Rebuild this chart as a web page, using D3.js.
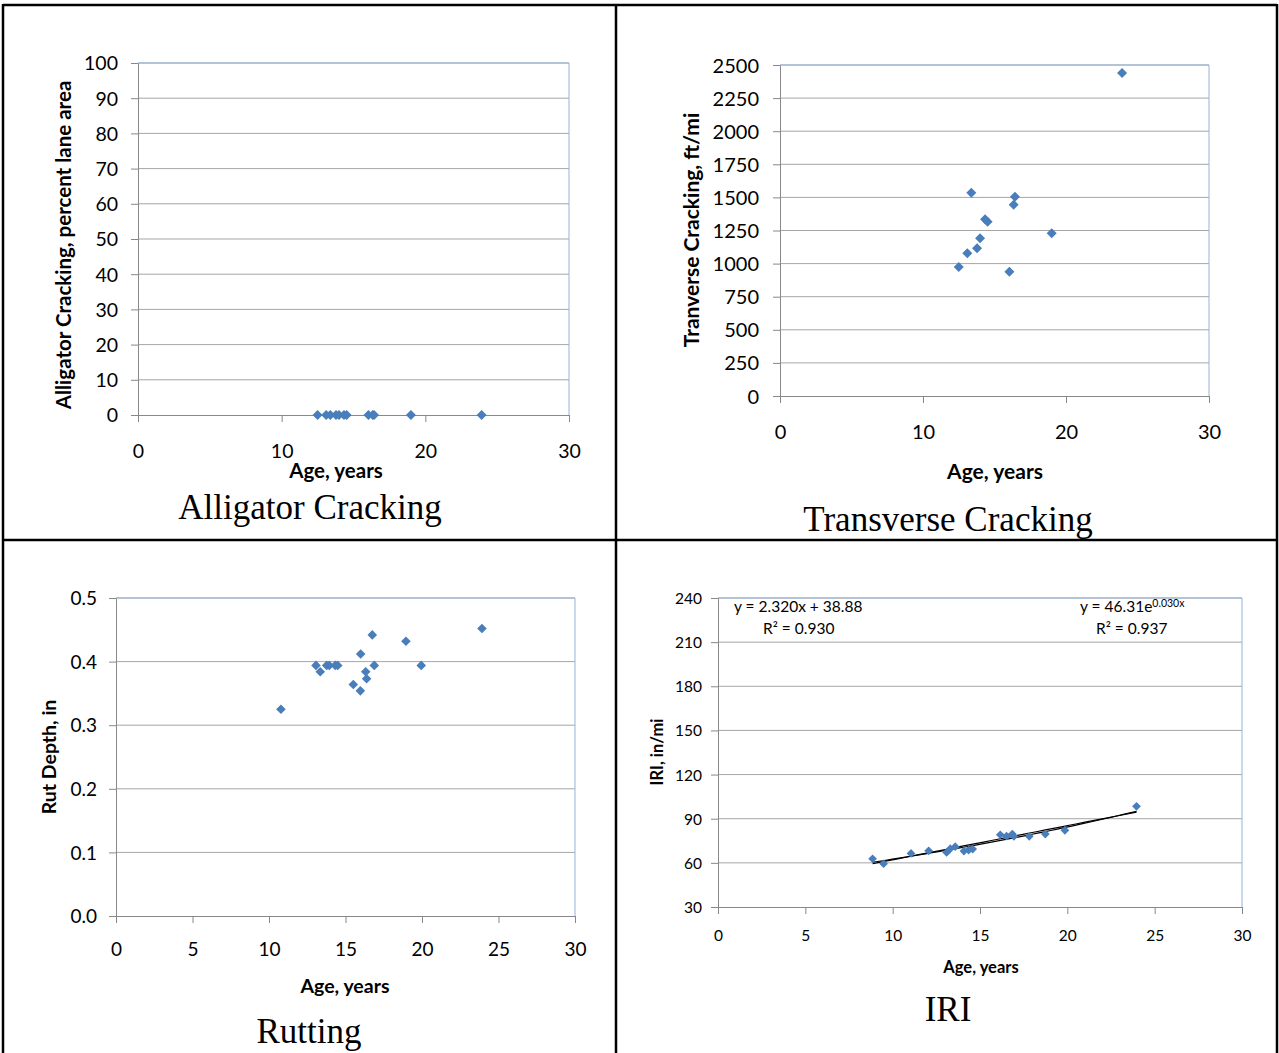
<!DOCTYPE html>
<html>
<head>
<meta charset="utf-8">
<script src="https://cdn.jsdelivr.net/npm/d3@7"></script>
<style>
  body { margin: 0; background: #fff; }
  svg { display: block; }
  text { fill: #000; }
</style>
</head>
<body>
<svg id="chart" width="1279" height="1053"></svg>
<script>
// Pavement age of each section (years)
const crackAge = [12.5, 13.1, 13.38, 13.78, 13.99, 14.34, 14.52, 16.04, 16.34, 16.43, 19.0, 23.92];
// Alligator cracking, percent lane area
const alligatorValues = [0, 0, 0, 0, 0, 0, 0, 0, 0, 0, 0, 0];
// Transverse cracking, ft/mi
const transverseValues = [974, 1078, 1535, 1115, 1191, 1335, 1317, 939, 1445, 1505, 1229, 2440];

// Rutting
const rutAge = [10.78, 13.07, 13.35, 13.77, 13.94, 14.33, 14.49, 15.51, 15.99, 15.97, 16.32, 16.38, 16.75, 16.88, 18.95, 19.95, 23.92];
const rutValues = [0.325, 0.394, 0.384, 0.394, 0.394, 0.394, 0.394, 0.364, 0.412, 0.354, 0.384, 0.373, 0.442, 0.394, 0.432, 0.394, 0.452];

// IRI, in/mi
const iriAge = [8.85, 9.48, 11.05, 12.06, 13.09, 13.3, 13.58, 14.08, 14.35, 14.58, 16.16, 16.52, 16.85, 16.94, 17.82, 18.74, 19.86, 23.96];
const iriValues = [62.8, 59.4, 66.4, 68.2, 67.1, 69.6, 71.0, 68.0, 68.7, 69.4, 79.1, 78.2, 79.6, 78.0, 78.0, 79.6, 82.1, 98.4];

// Fitted trend lines for IRI
const linearFit = { slope: 2.320, intercept: 38.88, r2: 0.930 };
const expFit = { a: 46.31, b: 0.030, r2: 0.937 };

// Tick values
const ticksAge10 = [0, 10, 20, 30];
const ticksAge5 = [0, 5, 10, 15, 20, 25, 30];
const ticksAlligator = [0, 10, 20, 30, 40, 50, 60, 70, 80, 90, 100];
const ticksTransverse = [0, 250, 500, 750, 1000, 1250, 1500, 1750, 2000, 2250, 2500];
const ticksRut = [0, 0.1, 0.2, 0.3, 0.4, 0.5];
const ticksIri = [30, 60, 90, 120, 150, 180, 210, 240];

const svg = d3.select("#chart");
const FONT = "Lato, 'Open Sans', sans-serif";
const SERIF = "'Liberation Serif', 'DejaVu Serif', serif";
const GRID = "#a6a6a6";
const AXIS = "#888888";
const FRAME = "#95b3d7";
const MARK = "#4a7ebb";

// Table frame around the four cells
const frame = svg.append("g").attr("stroke", "#000").attr("stroke-width", 2.5).attr("fill", "none");
frame.append("line").attr("x1", 3).attr("x2", 3).attr("y1", 4).attr("y2", 1053);
frame.append("line").attr("x1", 1277).attr("x2", 1277).attr("y1", 4).attr("y2", 1053);
frame.append("line").attr("x1", 3).attr("x2", 1277).attr("y1", 5).attr("y2", 5);
frame.append("line").attr("x1", 616).attr("x2", 616).attr("y1", 4).attr("y2", 1053);
frame.append("line").attr("x1", 3).attr("x2", 1277).attr("y1", 540).attr("y2", 540);

function panel(c) {
  const g = svg.append("g");
  const x = d3.scaleLinear().domain(c.xDomain).range([c.left, c.right]);
  const y = d3.scaleLinear().domain(c.yDomain).range([c.bottom, c.top]);

  // horizontal gridlines
  g.append("g").selectAll("line")
    .data(c.yTicks.slice(1))
    .join("line")
    .attr("x1", c.left).attr("x2", c.right)
    .attr("y1", d => y(d)).attr("y2", d => y(d))
    .attr("stroke", GRID).attr("stroke-width", 1);

  // plot frame, top and right
  g.append("path")
    .attr("d", `M${c.left},${c.top}H${c.right}V${c.bottom}`)
    .attr("fill", "none").attr("stroke", FRAME).attr("stroke-width", 1);

  // y axis
  const ya = g.append("g").attr("transform", `translate(${c.left},0)`)
    .call(d3.axisLeft(y).tickValues(c.yTicks).tickFormat(c.yFmt).tickSize(7).tickSizeOuter(0));
  ya.select(".domain").attr("stroke", AXIS);
  ya.selectAll(".tick line").attr("stroke", AXIS);
  ya.selectAll(".tick text")
    .attr("x", -c.yLabelGap).attr("dy", "0.35em")
    .attr("font-family", FONT).attr("font-size", c.tickSize).attr("fill", "#000");

  // x axis
  const xa = g.append("g").attr("transform", `translate(0,${c.bottom})`)
    .call(d3.axisBottom(x).tickValues(c.xTicks).tickSize(7).tickSizeOuter(0));
  xa.select(".domain").attr("stroke", AXIS);
  xa.selectAll(".tick line").attr("stroke", AXIS);
  xa.selectAll(".tick text")
    .attr("y", c.xLabelGap).attr("dy", "0.35em")
    .attr("font-family", FONT).attr("font-size", c.tickSize).attr("fill", "#000");

  // axis titles
  g.append("text")
    .attr("x", c.xTitle[0]).attr("y", c.xTitle[1])
    .attr("text-anchor", "middle").attr("dominant-baseline", "central")
    .attr("font-family", FONT).attr("font-weight", "bold").attr("font-size", c.titleSize)
    .text("Age, years");
  g.append("text")
    .attr("transform", `translate(${c.yTitle[0]},${c.yTitle[1]}) rotate(-90)`)
    .attr("text-anchor", "middle").attr("dominant-baseline", "central")
    .attr("font-family", FONT).attr("font-weight", "bold").attr("font-size", c.titleSize)
    .text(c.yLabel);

  // fitted lines, if any
  if (c.fits) c.fits(g, x, y);

  // diamond markers
  g.append("g").selectAll("path")
    .data(c.xs.map((v, i) => [v, c.ys[i]]))
    .join("path")
    .attr("d", d3.symbol().type(d3.symbolSquare).size(c.markSize))
    .attr("transform", d => `translate(${x(d[0])},${y(d[1])}) rotate(45)`)
    .attr("fill", MARK);

  // caption under the chart
  g.append("text")
    .attr("x", c.caption[0]).attr("y", c.caption[1])
    .attr("text-anchor", "middle")
    .attr("font-family", SERIF).attr("font-size", 35)
    .text(c.captionText);
}

panel({
  left: 138, right: 569, top: 63, bottom: 415,
  xDomain: [0, 30], yDomain: [0, 100],
  xTicks: ticksAge10, yTicks: ticksAlligator, yFmt: d3.format("d"),
  yLabelGap: 20, xLabelGap: 36, tickSize: 19.5, titleSize: 20.5, markSize: 50,
  xTitle: [336, 470], yTitle: [63, 245],
  yLabel: "Alligator Cracking, percent lane area",
  xs: crackAge, ys: alligatorValues,
  caption: [310, 519], captionText: "Alligator Cracking"
});

panel({
  left: 780, right: 1209, top: 65, bottom: 396,
  xDomain: [0, 30], yDomain: [0, 2500],
  xTicks: ticksAge10, yTicks: ticksTransverse, yFmt: d3.format("d"),
  yLabelGap: 21, xLabelGap: 36, tickSize: 20, titleSize: 21, markSize: 50,
  xTitle: [995, 470], yTitle: [690, 230],
  yLabel: "Tranverse Cracking, ft/mi",
  xs: crackAge, ys: transverseValues,
  caption: [948, 531], captionText: "Transverse Cracking"
});

panel({
  left: 116, right: 575, top: 598, bottom: 916,
  xDomain: [0, 30], yDomain: [0, 0.5],
  xTicks: ticksAge5, yTicks: ticksRut, yFmt: d3.format(".1f"),
  yLabelGap: 19, xLabelGap: 33, tickSize: 19, titleSize: 19.5, markSize: 46,
  xTitle: [345, 985], yTitle: [48, 757],
  yLabel: "Rut Depth, in",
  xs: rutAge, ys: rutValues,
  caption: [309, 1043], captionText: "Rutting"
});

panel({
  left: 718, right: 1242, top: 598, bottom: 907,
  xDomain: [0, 30], yDomain: [30, 240],
  xTicks: ticksAge5, yTicks: ticksIri, yFmt: d3.format("d"),
  yLabelGap: 16, xLabelGap: 29, tickSize: 15.5, titleSize: 16.5, markSize: 38,
  xTitle: [981, 967], yTitle: [657, 752],
  yLabel: "IRI, in/mi",
  xs: iriAge, ys: iriValues,
  caption: [948, 1021], captionText: "IRI",
  fits: (g, x, y) => {
    const [lo, hi] = d3.extent(iriAge);
    const xsFit = d3.range(0, 41).map(i => lo + (hi - lo) * i / 40);
    const line = d3.line().x(d => x(d[0])).y(d => y(d[1]));
    g.append("path")
      .attr("d", line(xsFit.map(v => [v, linearFit.slope * v + linearFit.intercept])))
      .attr("fill", "none").attr("stroke", "#000").attr("stroke-width", 1.2);
    g.append("path")
      .attr("d", line(xsFit.map(v => [v, expFit.a * Math.exp(expFit.b * v)])))
      .attr("fill", "none").attr("stroke", "#000").attr("stroke-width", 1.2);

    const eq = g.append("g").attr("font-family", FONT).attr("font-size", 15.5);
    eq.append("text").attr("x", 734).attr("y", 612)
      .text(`y = ${linearFit.slope.toFixed(3)}x + ${linearFit.intercept.toFixed(2)}`);
    eq.append("text").attr("x", 763).attr("y", 634)
      .text(`R² = ${linearFit.r2.toFixed(3)}`);
    const e2 = eq.append("text").attr("x", 1080).attr("y", 612);
    e2.append("tspan").text(`y = ${expFit.a.toFixed(2)}e`);
    e2.append("tspan").attr("dy", -5).attr("font-size", 10.5).text(`${expFit.b.toFixed(3)}x`);
    eq.append("text").attr("x", 1096).attr("y", 634)
      .text(`R² = ${expFit.r2.toFixed(3)}`);
  }
});
</script>
</body>
</html>
